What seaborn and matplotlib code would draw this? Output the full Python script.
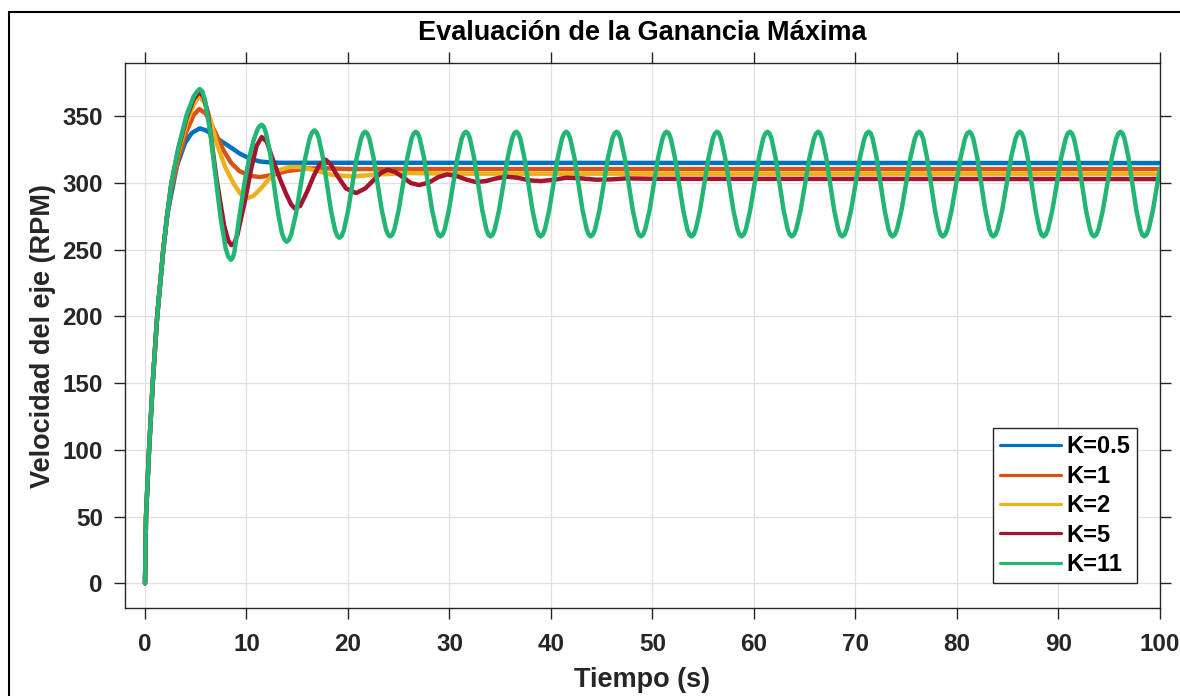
import matplotlib
matplotlib.use("Agg")
import matplotlib.pyplot as plt
from matplotlib.patches import Rectangle
import numpy as np
import pandas as pd
import seaborn as sns

# ---------------- data ----------------
labels = ["K=0.5", "K=1", "K=2", "K=5", "K=11"]
colors = ["#0072BD", "#D95319", "#EDB120", "#A2142F", "#22B573"]

blue_t = [0, 0.1, 0.4, 0.76, 1.2, 1.8, 2.2, 2.6, 3.15, 3.94, 4.6, 5.4, 6.0, 6.7,
          7.4, 8.4, 9.36, 10.3, 11.3, 12.3, 13.3, 16.0, 100.0]
blue_v = [0, 50, 100, 150, 200, 250, 276, 292, 313, 330, 337.5, 341, 339.5, 336,
          332, 327, 322, 318.5, 316.2, 315.5, 315.2, 315.2, 315.0]

orange_t = [0, 0.1, 0.4, 0.76, 1.2, 1.8, 2.2, 2.6, 3.3, 4.1, 4.8, 5.35, 6.0, 6.8,
            7.7, 8.5, 9.3, 10.3, 11.3, 12.5, 14.0, 16.0, 18.0, 20.0, 100.0]
orange_v = [0, 50, 100, 150, 200, 250, 277, 296, 319, 339, 351, 355.5, 352, 340,
            325, 315, 309, 305.5, 304.5, 306, 309, 311, 311, 310.5, 310.5]

yellow_t = [0, 0.1, 0.4, 0.76, 1.2, 1.8, 2.2, 2.6, 3.3, 4.1, 4.8, 5.35, 5.9, 6.5,
            7.05, 7.9, 8.7, 9.4, 10.1, 10.7, 11.3, 12.0, 12.6, 13.3, 14.2, 15.2,
            16.5, 18.5, 20.5, 23.0, 26.0, 30.0, 100.0]
yellow_v = [0, 50, 100, 150, 200, 250, 277, 299, 324, 345, 359, 365, 360, 346,
            330, 312, 300, 292, 288.7, 290.5, 295, 301, 306.5, 310, 312, 312,
            310, 306, 305, 306.5, 307.5, 307, 307]

red_t = [0, 0.1, 0.4, 0.76, 1.2, 1.8, 2.2, 2.6, 3.3, 4.1, 4.8, 5.4, 5.8, 6.2,
         7.05, 7.8, 8.2, 8.5, 8.8, 9.1, 9.8, 10.5, 11.0, 11.5, 12.0, 12.6, 13.3, 13.9,
         14.4, 14.75, 15.3, 16.0, 16.6, 17.2, 17.8, 18.3, 18.9, 19.8, 20.8, 21.7, 22.5,
         23.2, 23.9, 24.6, 25.4, 26.2, 27.0, 28.0, 28.9, 29.8, 30.8, 31.7, 32.6,
         33.6, 34.6, 35.6, 36.7, 37.9, 39.0, 40.3, 41.5, 43.0, 44.5, 46.0, 47.5,
         50.0, 100.0]
red_v = [0, 50, 100, 150, 200, 250, 277, 300, 326, 349, 363, 368.5, 364, 352,
         303, 268, 257, 253.5, 255, 261, 285, 312, 328, 334.5, 331, 317.5, 303, 292,
         284, 281, 283, 294, 305, 314, 317.5, 314, 306, 296, 292.5, 296, 302,
         307.5, 310, 308.5, 304.5, 300, 298.5, 300.5, 304.5, 306.5, 305, 302.5, 300.8,
         301.5, 303.5, 304.8, 304, 302, 301.5, 302.5, 304, 303.5, 302.5, 302.8, 303.5,
         303.2, 303.0]

green_t = [
    0, 0.1, 0.4, 0.76, 1.2, 1.8, 2.2, 2.6, 3.3, 4.1, 4.8, 5.15, 5.4, 5.65,
    5.91, 6.42, 6.93, 7.44, 7.95, 8.2, 8.46, 8.63,
    8.8, 9.3, 9.8, 10.3, 10.7, 11.1, 11.3, 11.5,
    11.7, 11.9, 12.3, 12.7, 13.1, 13.5, 13.75, 13.95,
    14.18, 14.41, 14.87, 15.33, 15.78, 16.24, 16.47, 16.7,
    16.9, 17.11, 17.52, 17.93, 18.33, 18.74, 18.95, 19.15,
    19.37, 19.58, 20.0, 20.43, 20.85, 21.28, 21.49, 21.7,
    21.9, 22.11, 22.52, 22.93, 23.33, 23.74, 23.95, 24.15,
    24.36, 24.57, 24.99, 25.42, 25.84, 26.26, 26.47, 26.68,
    26.88, 27.08, 27.49, 27.89, 28.29, 28.7, 28.9, 29.1,
    29.31, 29.52, 29.94, 30.36, 30.78, 31.2, 31.41, 31.62,
    31.82, 32.02, 32.42, 32.83, 33.23, 33.63, 33.83, 34.03,
    34.25, 34.46, 34.88, 35.31, 35.73, 36.16, 36.37, 36.58,
    36.78, 36.98, 37.38, 37.78, 38.18, 38.58, 38.78, 38.98,
    39.19, 39.4, 39.82, 40.24, 40.66, 41.08, 41.29, 41.5,
    41.7, 41.9, 42.31, 42.71, 43.11, 43.52, 43.72, 43.92,
    44.13, 44.34, 44.77, 45.19, 45.61, 46.04, 46.25, 46.46,
    46.66, 46.86, 47.26, 47.66, 48.06, 48.46, 48.66, 48.86,
    49.07, 49.28, 49.71, 50.13, 50.55, 50.98, 51.19, 51.4,
    51.6, 51.81, 52.21, 52.62, 53.03, 53.43, 53.64, 53.84,
    54.05, 54.26, 54.68, 55.1, 55.52, 55.94, 56.15, 56.36,
    56.56, 56.76, 57.16, 57.57, 57.97, 58.37, 58.57, 58.77,
    58.98, 59.2, 59.62, 60.05, 60.48, 60.9, 61.12, 61.33,
    61.53, 61.73, 62.13, 62.53, 62.92, 63.32, 63.52, 63.72,
    63.94, 64.16, 64.59, 65.03, 65.46, 65.9, 66.11, 66.33,
    66.52, 66.72, 67.12, 67.51, 67.9, 68.3, 68.5, 68.69,
    68.91, 69.13, 69.56, 70.0, 70.43, 70.87, 71.08, 71.3,
    71.5, 71.69, 72.08, 72.48, 72.87, 73.26, 73.45, 73.65,
    73.87, 74.09, 74.53, 74.97, 75.4, 75.84, 76.06, 76.28,
    76.47, 76.67, 77.05, 77.44, 77.83, 78.21, 78.41, 78.6,
    78.82, 79.04, 79.47, 79.91, 80.35, 80.78, 81.0, 81.22,
    81.41, 81.61, 82.0, 82.4, 82.79, 83.18, 83.37, 83.57,
    83.79, 84.01, 84.45, 84.89, 85.32, 85.76, 85.98, 86.2,
    86.39, 86.59, 86.97, 87.36, 87.75, 88.13, 88.32, 88.52,
    88.74, 88.96, 89.39, 89.83, 90.26, 90.7, 90.91, 91.13,
    91.33, 91.53, 91.92, 92.32, 92.71, 93.11, 93.3, 93.5,
    93.72, 93.94, 94.37, 94.81, 95.25, 95.68, 95.9, 96.12,
    96.31, 96.51, 96.9, 97.28, 97.67, 98.06, 98.25, 98.45,
    98.66, 98.88, 99.3, 99.73, 100.0,
]
green_v = [
    0, 50, 100, 150, 200, 250, 277, 300, 327, 351, 365, 368.8, 370.5, 368.8,
    362, 338.5, 306.5, 274.5, 251, 245, 242.5, 243.8,
    248, 275, 300, 320, 332, 340.5, 342.8, 343.7,
    342.3, 338, 324, 299, 278, 262, 257.5, 256,
    257.4, 261.6, 276.9, 297.8, 318.6, 333.9, 338.1, 339.5,
    338.1, 334.1, 319.4, 299.3, 279.1, 264.4, 260.3, 259,
    260.3, 264.3, 278.9, 298.8, 318.6, 333.2, 337.2, 338.5,
    337.2, 333.2, 318.9, 299.2, 279.6, 265.3, 261.3, 260,      # 21.9 - 24.15
    261.3, 265.3, 279.6, 299.2, 318.9, 333.2, 337.2, 338.5,    # 24.36 - 26.68
    337.2, 333.2, 318.9, 299.2, 279.6, 265.3, 261.3, 260,      # 26.88 - 29.1
    261.3, 265.3, 279.6, 299.2, 318.9, 333.2, 337.2, 338.5,    # 29.31 - 31.62
    337.2, 333.2, 318.9, 299.2, 279.6, 265.3, 261.3, 260,      # 31.82 - 34.03
    261.3, 265.3, 279.6, 299.2, 318.9, 333.2, 337.2, 338.5,    # 34.25 - 36.58
    337.2, 333.2, 318.9, 299.2, 279.6, 265.3, 261.3, 260,      # 36.78 - 38.98
    261.3, 265.3, 279.6, 299.2, 318.9, 333.2, 337.2, 338.5,    # 39.19 - 41.5
    337.2, 333.2, 318.9, 299.2, 279.6, 265.3, 261.3, 260,      # 41.7 - 43.92
    261.3, 265.3, 279.6, 299.2, 318.9, 333.2, 337.2, 338.5,    # 44.13 - 46.46
    337.2, 333.2, 318.9, 299.2, 279.6, 265.3, 261.3, 260,      # 46.66 - 48.86
    261.3, 265.3, 279.6, 299.2, 318.9, 333.2, 337.2, 338.5,    # 49.07 - 51.4
    337.2, 333.2, 318.9, 299.2, 279.6, 265.3, 261.3, 260,      # 51.6 - 53.84
    261.3, 265.3, 279.6, 299.2, 318.9, 333.2, 337.2, 338.5,    # 54.05 - 56.36
    337.2, 333.2, 318.9, 299.2, 279.6, 265.3, 261.3, 260,      # 56.56 - 58.77
    261.3, 265.3, 279.6, 299.2, 318.9, 333.2, 337.2, 338.5,    # 58.98 - 61.33
    337.2, 333.2, 318.9, 299.2, 279.6, 265.3, 261.3, 260,      # 61.53 - 63.72
    261.3, 265.3, 279.6, 299.2, 318.9, 333.2, 337.2, 338.5,    # 63.94 - 66.33
    337.2, 333.2, 318.9, 299.2, 279.6, 265.3, 261.3, 260,      # 66.52 - 68.69
    261.3, 265.3, 279.6, 299.2, 318.9, 333.2, 337.2, 338.5,    # 68.91 - 71.3
    337.2, 333.2, 318.9, 299.2, 279.6, 265.3, 261.3, 260,      # 71.5 - 73.65
    261.3, 265.3, 279.6, 299.2, 318.9, 333.2, 337.2, 338.5,    # 73.87 - 76.28
    337.2, 333.2, 318.9, 299.2, 279.6, 265.3, 261.3, 260,      # 76.47 - 78.6
    261.3, 265.3, 279.6, 299.2, 318.9, 333.2, 337.2, 338.5,    # 78.82 - 81.22
    337.2, 333.2, 318.9, 299.2, 279.6, 265.3, 261.3, 260,      # 81.41 - 83.57
    261.3, 265.3, 279.6, 299.2, 318.9, 333.2, 337.2, 338.5,    # 83.79 - 86.2
    337.2, 333.2, 318.9, 299.2, 279.6, 265.3, 261.3, 260,      # 86.39 - 88.52
    261.3, 265.3, 279.6, 299.2, 318.9, 333.2, 337.2, 338.5,    # 88.74 - 91.13
    337.2, 333.2, 318.9, 299.2, 279.6, 265.3, 261.3, 260,      # 91.33 - 93.5
    261.3, 265.3, 279.6, 299.2, 318.9, 333.2, 337.2, 338.5,    # 93.72 - 96.12
    337.2, 333.2, 318.9, 299.2, 279.6, 265.3, 261.3, 260,      # 96.31 - 98.45
    261.3, 265.3, 279.6, 299.2, 311,                           # 98.66 - 100
]

x_ticks = [0, 10, 20, 30, 40, 50, 60, 70, 80, 90, 100]
y_ticks = [0, 50, 100, 150, 200, 250, 300, 350]

title = "Evaluación de la Ganancia Máxima"
xlabel = "Tiempo (s)"
ylabel = "Velocidad del eje (RPM)"

# ---------------- build long table ----------------
series = [(blue_t, blue_v), (orange_t, orange_v), (yellow_t, yellow_v),
          (red_t, red_v), (green_t, green_v)]
frames = []
for lab, (tt, vv) in zip(labels, series):
    assert len(tt) == len(vv), (lab, len(tt), len(vv))
    frames.append(pd.DataFrame({"t": tt, "v": vv, "K": lab}))
df = pd.concat(frames, ignore_index=True)

# ---------------- style ----------------
sns.set_theme(style="ticks")
plt.rcParams["font.family"] = ["Liberation Sans", "DejaVu Sans"]
plt.rcParams["font.weight"] = "bold"
plt.rcParams["axes.labelweight"] = "bold"
plt.rcParams["axes.titleweight"] = "bold"

W, H = 1180, 696
fig = plt.figure(figsize=(W / 100, H / 100), dpi=100)
fig.patch.set_facecolor("white")
ax = fig.add_axes([125 / W, 1 - 608 / H, (1160 - 125) / W, (608 - 63) / H])

sns.lineplot(data=df, x="t", y="v", hue="K", hue_order=labels,
             palette=colors, estimator=None, sort=False, linewidth=3.2,
             ax=ax)
for ln in ax.get_lines():
    ln.set_solid_joinstyle("round")
    ln.set_solid_capstyle("round")

ax.set_xlim(-1.97, 100)
ax.set_ylim(-18.5, 390)
ax.set_xticks(x_ticks)
ax.set_yticks(y_ticks)
ax.grid(True, color="#E0E0E0", linewidth=0.9)
ax.set_axisbelow(True)

ink = "#262626"
for sp in ax.spines.values():
    sp.set_color(ink)
    sp.set_linewidth(1.0)
ax.tick_params(axis="both", direction="out", length=8, width=1.0, colors=ink,
               top=True, right=True, labeltop=False, labelright=False,
               labelsize=17.5)
ax.tick_params(axis="x", pad=10)
ax.tick_params(axis="y", pad=8)
for lab in ax.get_xticklabels() + ax.get_yticklabels():
    lab.set_fontweight("bold")
    lab.set_color(ink)

ax.set_xlabel(xlabel, fontsize=19.5, fontweight="bold", color=ink)
ax.set_ylabel(ylabel, fontsize=19.5, fontweight="bold", color=ink)
ax.xaxis.set_label_coords(0.5, -0.108)
ax.yaxis.set_label_coords(-0.067, 0.5)
ax.set_title(title, fontsize=19.5, fontweight="bold", color="black", y=1.042, pad=0)

handles, labs = ax.get_legend_handles_labels()
leg = ax.legend(handles, labs, loc="lower right",
                bbox_to_anchor=(0.9778, 0.0459), borderaxespad=0,
                frameon=True, fancybox=False, framealpha=1, edgecolor=ink,
                fontsize=17, handlelength=2.6, handletextpad=0.2,
                labelspacing=0.27, borderpad=0.3)
leg.get_frame().set_linewidth(1.0)
for h in leg.get_lines():
    h.set_linewidth(2.3)
for txt in leg.get_texts():
    txt.set_fontweight("bold")
    txt.set_color("black")

# outer figure frame (as in the screenshot)
fig.add_artist(Rectangle((9 / W, -0.1), 1.5, 1 - 12 / H + 0.1,
                         transform=fig.transFigure, fill=False,
                         edgecolor="black", linewidth=1.5))

fig.savefig("out.png", dpi=100, facecolor="white")
